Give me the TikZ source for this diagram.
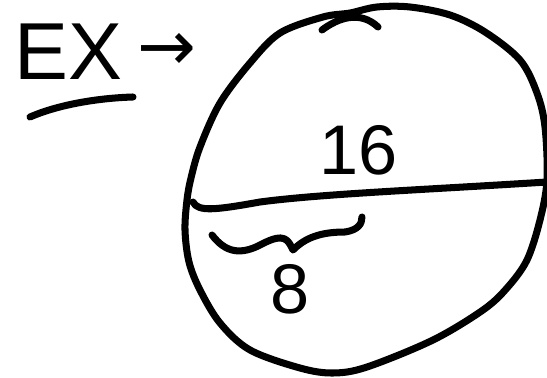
\documentclass[tikz,border=0pt]{standalone}
\usepackage{fontspec}
\setmainfont{Liberation Sans}
\newfontfamily\arrowfont{DejaVu Sans}
\usetikzlibrary{positioning}

\begin{document}
\begin{tikzpicture}[
    x=0.02cm, y=-0.02cm,
    pen/.style={line width=4pt,line cap=round,line join=round},
    titlelabel/.style={inner sep=0pt,font=\fontsize{46}{50}\selectfont},
    arrowlabel/.style={inner sep=0pt,font=\arrowfont\fontsize{40}{44}\selectfont},
    sizelabel/.style={inner sep=0pt,font=\fontsize{40}{44}\selectfont}
]
  \useasboundingbox (0,0) rectangle (547,378);

  % heading
  \node[titlelabel] (ex) at (68,52) {EX};
  \node[arrowlabel, right=0.3cm of ex] (arrow) {→};
  \coordinate (ul) at (30,117);
  \coordinate (ur) at (133,97);
  \draw[pen] (ul) .. controls (60,104) and (100,98) .. (ur);

  % the circle, drawn by hand
  \draw[pen] plot[smooth cycle, tension=0.55] coordinates {
    (377,7) (410,7) (450,15) (485,32) (520,60) (537,93) (545,127)
    (547,180) (540,220) (527,260) (507,288) (483,310) (433,340)
    (367,367) (333,373) (300,368) (250,350) (220,323) (200,290)
    (189,262) (185,230) (187,200) (191,178) (200,147) (220,103)
    (250,63) (280,33) (323,17) (350,13)};
  \draw[pen] (322,30) .. controls (338,18) and (360,10) .. (378,27);

  % diameter
  \coordinate (dl) at (193,202);
  \coordinate (dr) at (547,182);
  \draw[pen] (dl) .. controls (198,212) and (215,210) .. (260,202)
    .. controls (320,194) and (420,190) .. (dr);
  \node[sizelabel] (whole) at (359,150) {16};

  % half of it
  \coordinate (bl) at (212,235);
  \coordinate (br) at (362,217);
  \draw[pen] (bl) .. controls (225,252) and (240,256) .. (262,244)
    .. controls (285,232) and (288,240) .. (293,250)
    .. controls (305,238) and (320,232) .. (345,232)
    .. controls (358,230) and (362,224) .. (br);
  \node[sizelabel] (half) at (290,289) {8};
\end{tikzpicture}
\end{document}
